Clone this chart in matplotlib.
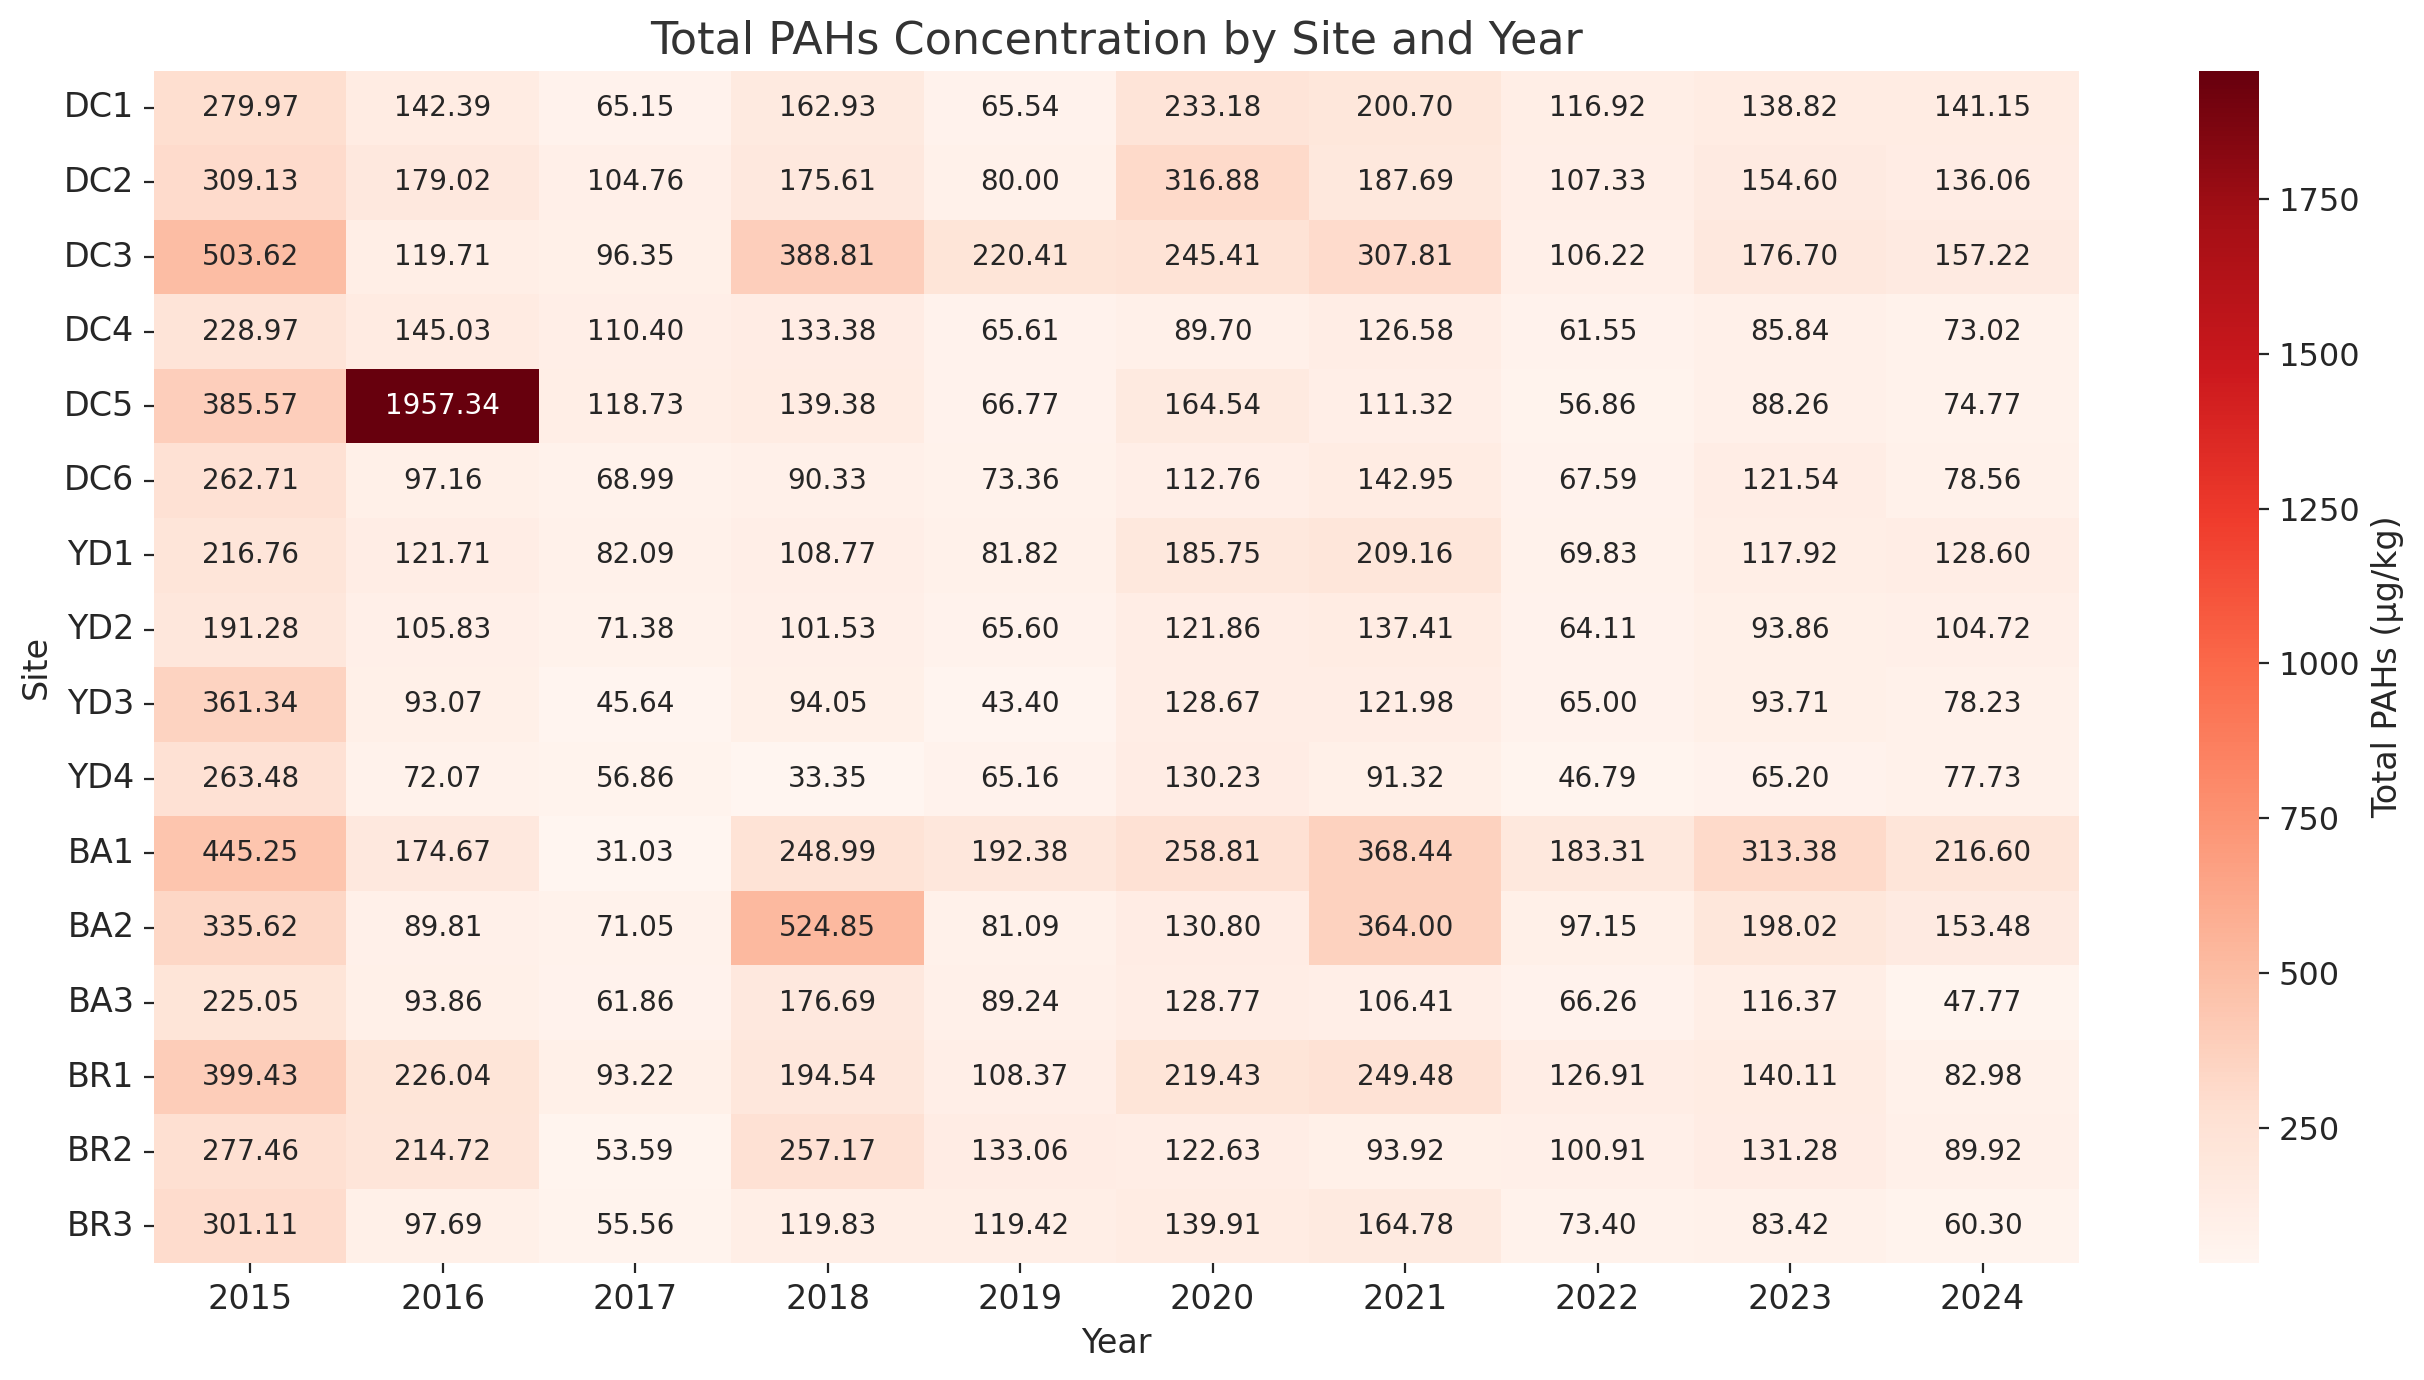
import matplotlib
matplotlib.use("Agg")
import matplotlib.pyplot as plt
import seaborn as sns
import numpy as np
import pandas as pd

sites = ["DC1", "DC2", "DC3", "DC4", "DC5", "DC6", "YD1", "YD2", "YD3", "YD4",
         "BA1", "BA2", "BA3", "BR1", "BR2", "BR3"]
years = ["2015", "2016", "2017", "2018", "2019", "2020", "2021", "2022", "2023", "2024"]

DC1 = [279.97, 142.39, 65.15, 162.93, 65.54, 233.18, 200.70, 116.92, 138.82, 141.15]
DC2 = [309.13, 179.02, 104.76, 175.61, 80.00, 316.88, 187.69, 107.33, 154.60, 136.06]
DC3 = [503.62, 119.71, 96.35, 388.81, 220.41, 245.41, 307.81, 106.22, 176.70, 157.22]
DC4 = [228.97, 145.03, 110.40, 133.38, 65.61, 89.70, 126.58, 61.55, 85.84, 73.02]
DC5 = [385.57, 1957.34, 118.73, 139.38, 66.77, 164.54, 111.32, 56.86, 88.26, 74.77]
DC6 = [262.71, 97.16, 68.99, 90.33, 73.36, 112.76, 142.95, 67.59, 121.54, 78.56]
YD1 = [216.76, 121.71, 82.09, 108.77, 81.82, 185.75, 209.16, 69.83, 117.92, 128.60]
YD2 = [191.28, 105.83, 71.38, 101.53, 65.60, 121.86, 137.41, 64.11, 93.86, 104.72]
YD3 = [361.34, 93.07, 45.64, 94.05, 43.40, 128.67, 121.98, 65.00, 93.71, 78.23]
YD4 = [263.48, 72.07, 56.86, 33.35, 65.16, 130.23, 91.32, 46.79, 65.20, 77.73]
BA1 = [445.25, 174.67, 31.03, 248.99, 192.38, 258.81, 368.44, 183.31, 313.38, 216.60]
BA2 = [335.62, 89.81, 71.05, 524.85, 81.09, 130.80, 364.00, 97.15, 198.02, 153.48]
BA3 = [225.05, 93.86, 61.86, 176.69, 89.24, 128.77, 106.41, 66.26, 116.37, 47.77]
BR1 = [399.43, 226.04, 93.22, 194.54, 108.37, 219.43, 249.48, 126.91, 140.11, 82.98]
BR2 = [277.46, 214.72, 53.59, 257.17, 133.06, 122.63, 93.92, 100.91, 131.28, 89.92]
BR3 = [301.11, 97.69, 55.56, 119.83, 119.42, 139.91, 164.78, 73.40, 83.42, 60.30]

rows = [DC1, DC2, DC3, DC4, DC5, DC6, YD1, YD2, YD3, YD4, BA1, BA2, BA3, BR1, BR2, BR3]
df = pd.DataFrame(rows, index=sites, columns=years)

plt.rcParams['font.family'] = ['DejaVu Sans']
plt.rcParams['text.color'] = '#262626'
fig, ax = plt.subplots(figsize=(13, 7), dpi=200)
hm = sns.heatmap(df, ax=ax, cmap="Reds", annot=True, fmt=".2f",
                 annot_kws={"size": 10},
                 cbar_kws={"label": "Total PAHs (µg/kg)"})
ax.set_title("Total PAHs Concentration by Site and Year", fontsize=16, color="#333333")
ax.set_xlabel("Year", fontsize=12, color="#262626")
ax.set_ylabel("Site", fontsize=12, color="#262626")
ax.tick_params(axis="both", labelsize=12, colors="#262626")
plt.setp(ax.get_yticklabels(), rotation=0)
plt.setp(ax.get_xticklabels(), rotation=0)
cbar = hm.collections[0].colorbar
cbar.ax.tick_params(labelsize=11.5, colors="#262626")
cbar.set_label("Total PAHs (µg/kg)", fontsize=12, color="#262626")
cbar.outline.set_visible(False)
fig.tight_layout()
fig.savefig("out.png", dpi=200, bbox_inches="tight")
